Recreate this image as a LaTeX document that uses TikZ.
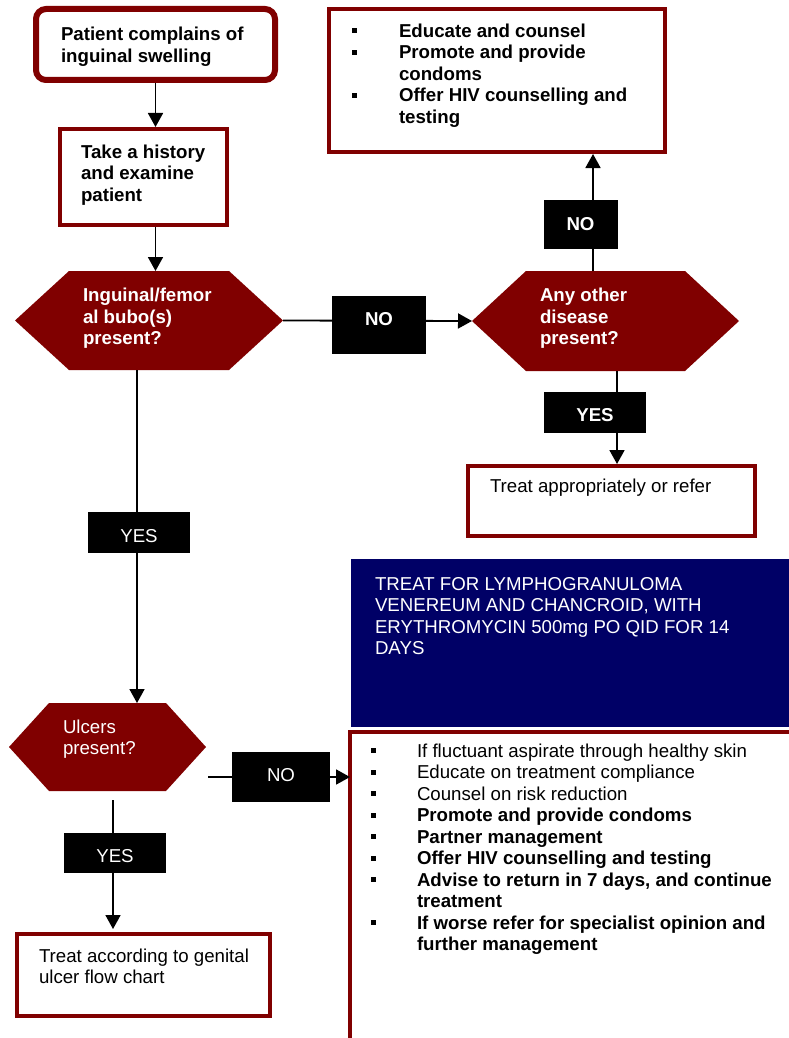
\documentclass[tikz,border=0pt]{standalone}
\usepackage{fontspec}
\setmainfont{Liberation Sans}
\usetikzlibrary{arrows.meta}
\definecolor{dred}{RGB}{128,0,0}
\definecolor{navyb}{RGB}{0,0,102}
\begin{document}
\begin{tikzpicture}[x=1pt,y=-1pt,
  every node/.style={inner sep=0pt, outer sep=0pt},
  frame/.style={draw=dred, line width=4pt, fill=white, outer sep=2pt},
  lbl/.style={fill=black},
  arr/.style={line width=1.8pt, -{Triangle[width=15pt,length=14pt]}},
  txt/.style={anchor=base west, font=\fontsize{18.67pt}{21.5pt}\selectfont},
  btxt/.style={anchor=base west, font=\fontsize{18.67pt}{21.5pt}\selectfont\bfseries},
  hexfill/.style={fill=dred}
]
\clip (0,0) rectangle (789,1038);
\fill[white] (0,0) rectangle (789,1038);

% ---- boxes
\node[frame, rounded corners=10pt, line width=6pt, outer sep=3pt, minimum width=239pt, minimum height=71pt] (start) at (155.5,44.5) {};
\node[frame, minimum width=167pt, minimum height=96pt] (hist) at (143.5,177) {};
\node[minimum width=268pt, minimum height=99pt] (hexA) at (149,320.5) {};
\node[minimum width=267pt, minimum height=100pt] (hexB) at (605.5,321) {};
\node[frame, minimum width=336pt, minimum height=143pt] (advice) at (497,80.5) {};
\node[frame, minimum width=287pt, minimum height=70pt] (treatA) at (611.5,501) {};
\node[minimum width=197pt, minimum height=88pt] (hexC) at (107.5,747) {};
\node[frame, minimum width=253pt, minimum height=82pt] (treatB) at (143.5,975) {};
\node[fill=navyb, anchor=north west, minimum width=460pt, minimum height=168pt] (lgv) at (351,559) {};
\node[frame, anchor=north west, minimum width=460pt, minimum height=340pt] (mgmt) at (348,730) {};

% ---- hexagons
\fill[hexfill] (hexA.west) -- ([xshift=54pt]hexA.north west) -- ([xshift=-54pt]hexA.north east) -- (hexA.east) -- ([xshift=-54pt]hexA.south east) -- ([xshift=54pt]hexA.south west) -- cycle;
\fill[hexfill] (hexB.west) -- ([xshift=54pt]hexB.north west) -- ([xshift=-54pt]hexB.north east) -- (hexB.east) -- ([xshift=-54pt]hexB.south east) -- ([xshift=54pt]hexB.south west) -- cycle;
\fill[hexfill] (hexC.west) -- ([xshift=40pt]hexC.north west) -- ([xshift=-40pt]hexC.north east) -- (hexC.east) -- ([xshift=-40pt]hexC.south east) -- ([xshift=40pt]hexC.south west) -- cycle;

% ---- connectors
\draw[arr] (start.south) -- (start.south |- hist.north);
\draw[arr] (start.south |- hist.south) -- (start.south |- hexA.north);
\draw[arr] (hexA.east) -- (hexB.west);
\draw[arr] ([xshift=-12.5pt]hexB.north) -- ([xshift=-12.5pt]hexB.north |- advice.south);
\draw[arr] ([xshift=11.5pt]hexB.south) -- ([xshift=11.5pt]hexB.south |- treatA.north);
\draw[arr] ([xshift=-12pt]hexA.south) -- ([xshift=-12pt]hexA.south |- hexC.north);
\draw[arr] ([xshift=2pt,yshift=-30pt]hexC.east) -- ([xshift=2pt,yshift=-30pt]hexC.east -| mgmt.west);
\draw[arr, shorten >=12pt] ([xshift=5.5pt,yshift=-9pt]hexC.south) -- ([xshift=5.5pt,yshift=-9pt]hexC.south |- treatB.north);

% ---- label boxes
\node[lbl, minimum width=94pt, minimum height=58pt] (noA) at (379,325) {};
\node[btxt, white, anchor=base] (noAt) at (379,325) {NO};
\node[lbl, minimum width=74pt, minimum height=49pt] (noB) at (581,224.5) {};
\node[btxt, white, anchor=base] (noBt) at (580.5,230) {NO};
\node[lbl, minimum width=102pt, minimum height=41pt] (yesA) at (595,412.5) {};
\node[btxt, white, anchor=base] (yesAt) at (595,421) {YES};
\node[lbl, minimum width=102pt, minimum height=41pt] (yesB) at (139,532.5) {};
\node[txt, white, anchor=base] (yesBt) at (139,542) {YES};
\node[lbl, minimum width=98pt, minimum height=50pt] (noC) at (281,777) {};
\node[txt, white, anchor=base] (noCt) at (281,781) {NO};
\node[lbl, minimum width=102pt, minimum height=40pt] (yesC) at (115,853) {};
\node[txt, white, anchor=base] (yesCt) at (115,862) {YES};

% ---- texts
\node[btxt] (s1) at (61,41) {Patient complains of};
\node[btxt] (s2) at (61,62.5) {inguinal swelling};

\node[btxt] (h1) at (81,158) {Take a history};
\node[btxt] (h2) at (81,179.5) {and examine};
\node[btxt] (h3) at (81,201) {patient};

\node[btxt, white] (a1) at (83,301.5) {Inguinal/femor};
\node[btxt, white] (a2) at (83,323) {al bubo(s)};
\node[btxt, white] (a3) at (83,344.5) {present?};

\node[btxt, white] (b1) at (540,301.5) {Any other};
\node[btxt, white] (b2) at (540,323) {disease};
\node[btxt, white] (b3) at (540,344.5) {present?};

\node[btxt] (e1) at (399,37.5) {Educate and counsel};
\node[btxt] (e2) at (399,59) {Promote and provide};
\node[btxt] (e3) at (399,80.5) {condoms};
\node[btxt] (e4) at (399,102) {Offer HIV counselling and};
\node[btxt] (e5) at (399,123.5) {testing};
\foreach \b in {37.5,59,102} \fill (352,\b-9) rectangle (357,\b-4);

\node[txt] (ta) at (490,492) {Treat appropriately or refer};

\node[txt, white] (c1) at (63,733) {Ulcers};
\node[txt, white] (c2) at (63,754.5) {present?};

\node[txt] (tb1) at (39,962) {Treat according to genital};
\node[txt] (tb2) at (39,983.5) {ulcer flow chart};

\node[txt, white] (l1) at (375,590) {TREAT FOR LYMPHOGRANULOMA};
\node[txt, white] (l2) at (375,611.5) {VENEREUM AND CHANCROID, WITH};
\node[txt, white] (l3) at (375,633) {ERYTHROMYCIN 500mg PO QID FOR 14};
\node[txt, white] (l4) at (375,654.5) {DAYS};

\node[txt] (m1) at (417,757) {If fluctuant aspirate through healthy skin};
\node[txt] (m2) at (417,778.5) {Educate on treatment compliance};
\node[txt] (m3) at (417,800) {Counsel on risk reduction};
\node[btxt] (m4) at (417,821.5) {Promote and provide condoms};
\node[btxt] (m5) at (417,843) {Partner management};
\node[btxt] (m6) at (417,864.5) {Offer HIV counselling and testing};
\node[btxt] (m7) at (417,886) {Advise to return in 7 days, and continue};
\node[btxt] (m8) at (417,907.5) {treatment};
\node[btxt] (m9) at (417,929) {If worse refer for specialist opinion and};
\node[btxt] (m10) at (417,950.5) {further management};
\foreach \b in {757,778.5,800,821.5,843,864.5,886,929} \fill (371,\b-9) rectangle (376,\b-4);
\end{tikzpicture}
\end{document}
